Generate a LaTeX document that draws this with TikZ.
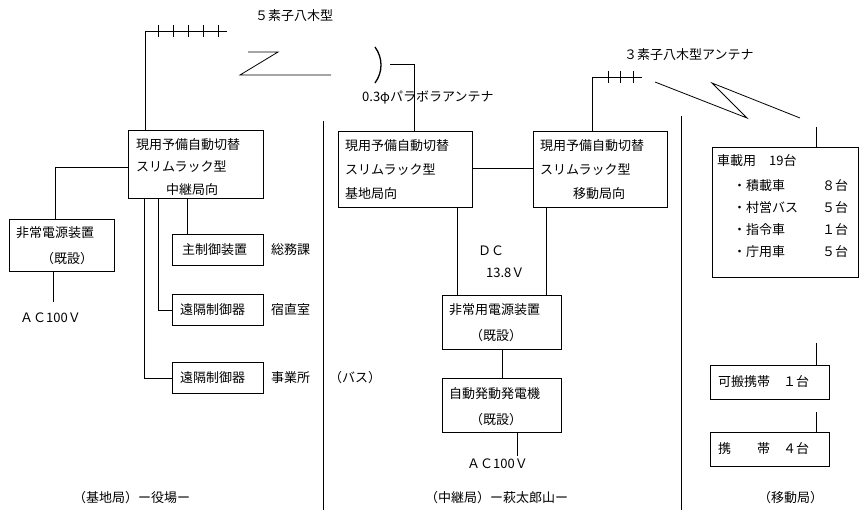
\documentclass[tikz,border=0pt]{standalone}
\usepackage{fontspec}
\setmainfont{Noto Sans CJK JP}
\begin{document}
\begin{tikzpicture}[x=1pt,y=-1pt,
  box/.style={draw,line width=0.8pt,inner sep=0pt,anchor=north west,font=\fontsize{13}{22}\selectfont},
  txt/.style={inner sep=0pt,anchor=west,font=\fontsize{13}{22}\selectfont},
  ln/.style={line width=0.8pt}]
\useasboundingbox (0,0) rectangle (868,520);
% boxes
\node[box,minimum width=135pt,minimum height=68pt] (b1) at (128,130) {};
\node[txt] at (136,145) {現用予備自動切替};
\node[txt] at (136,167) {スリムラック型};
\node[txt] at (166,190) {中継局向};
\node[box,minimum width=105pt,minimum height=52pt] (e1) at (9,219) {};
\node[txt] at (16,233) {非常電源装置};
\node[txt] at (41,259) {（既設）};
\node[txt] (ac1) at (20,318) {ＡＣ100Ｖ};
\node[box,minimum width=91pt,minimum height=31pt] (r1) at (172,234) {};
\node[txt] at (182,250) {主制御装置};
\node[txt] at (271,250) {総務課};
\node[box,minimum width=91pt,minimum height=31pt] (r2) at (172,294) {};
\node[txt] at (180,310) {遠隔制御器};
\node[txt] at (271,310) {宿直室};
\node[box,minimum width=91pt,minimum height=31pt] (r3) at (172,362) {};
\node[txt] at (180,378) {遠隔制御器};
\node[txt] at (271,378) {事業所};
\node[txt] at (329,378) {（バス）};
% middle
\node[box,minimum width=134pt,minimum height=76pt] (ba) at (338,131) {};
\node[txt] at (345,146) {現用予備自動切替};
\node[txt] at (345,170) {スリムラック型};
\node[txt] at (345,194) {基地局向};
\node[box,minimum width=134pt,minimum height=76pt] (bb) at (533,131) {};
\node[txt] at (540,146) {現用予備自動切替};
\node[txt] at (540,170) {スリムラック型};
\node[txt] at (573,194) {移動局向};
\node[txt] at (478,251) {ＤＣ};
\node[txt] at (486,273) {13.8Ｖ};
\node[box,minimum width=119pt,minimum height=54pt] (p1) at (442,295) {};
\node[txt] at (449,310) {非常用電源装置};
\node[txt] at (470,336) {（既設）};
\node[box,minimum width=119pt,minimum height=54pt] (g1) at (442,378) {};
\node[txt] at (449,394) {自動発動発電機};
\node[txt] at (470,420) {（既設）};
\node[txt] (ac2) at (467,464) {ＡＣ100Ｖ};
% right
\node[box,minimum width=146pt,minimum height=130pt] (m1) at (712,147) {};
\node[txt] at (717,161) {車載用　19台};
\node[txt] at (733,186) {・積載車};
\node[txt] at (733,208) {・村営バス};
\node[txt] at (733,230) {・指令車};
\node[txt] at (733,252) {・庁用車};
\node[txt] at (822,186) {８台};
\node[txt] at (822,208) {５台};
\node[txt] at (822,230) {１台};
\node[txt] at (822,252) {５台};
\node[box,minimum width=119pt,minimum height=34pt] (m2) at (710,365) {};
\node[txt] at (718,382) {可搬携帯　１台};
\node[box,minimum width=119pt,minimum height=34pt] (m3) at (710,432) {};
\node[txt] at (718,449) {携　　帯　４台};
% labels
\node[txt] at (255,16) {５素子八木型};
\node[txt] at (362,97) {0.3φパラボラアンテナ};
\node[txt] at (624,55) {３素子八木型アンテナ};
\node[txt] at (73,498) {（基地局）ー役場ー};
\node[txt] at (425,498) {（中継局）ー萩太郎山ー};
\node[txt] at (758,498) {（移動局）};
% dividers
\draw[ln] (323,121) -- (323,510);
\draw[ln] (681,116) -- (681,510);
% antennas
\draw[ln] ([xshift=17pt]b1.north west) |- (227,31);
\foreach \x in {158,173,188,203,218} \draw[ln] (\x,25) -- (\x,37);
\draw[ln] (248,52) -- (278,52) -- (240,75) -- (331,75);
\draw[line width=1.3pt] (375,47) .. controls (383,58) and (383,72) .. (375,83);
\draw[ln] (390,64) -| ([xshift=76pt]ba.north west);
\draw[ln] ([xshift=59pt]bb.north west) |- (642,77);
\foreach \x in {608,620,633} \draw[ln] (\x,71) -- (\x,83);
\draw[ln] (655,82) -- (747,118) -- (712,83) -- (800,118);
\draw[ln] (816,127) -- (m1.north -| 816,0);
% connections left
\draw[ln] (b1.west |- 0,167) -| (e1.north -| 55,0);
\draw[ln] (e1.south -| 53,0) -- (53,302);
\draw[ln] ([xshift=59pt]b1.south west) -- ([xshift=15pt]r1.north west);
\draw[ln] ([xshift=30pt]b1.south west) |- (r2.west);
\draw[ln] ([xshift=16pt]b1.south west) |- (r3.west);
% middle connections
\draw[ln] (ba.east |- 0,168) -- (bb.west |- 0,168);
\draw[ln] ([xshift=119pt]ba.south west) -- ([xshift=15pt]p1.north west);
\draw[ln] ([xshift=13pt]bb.south west) -- ([xshift=104pt]p1.north west);
\draw[ln] ([xshift=60pt]p1.south west) -- ([xshift=60pt]g1.north west);
\draw[ln] ([xshift=75pt]g1.south west) -- (517,456);
% right connections
\draw[ln] (816,343) -- (m2.north -| 816,0);
\draw[ln] (816,412) -- (m3.north -| 816,0);
\end{tikzpicture}
\end{document}
